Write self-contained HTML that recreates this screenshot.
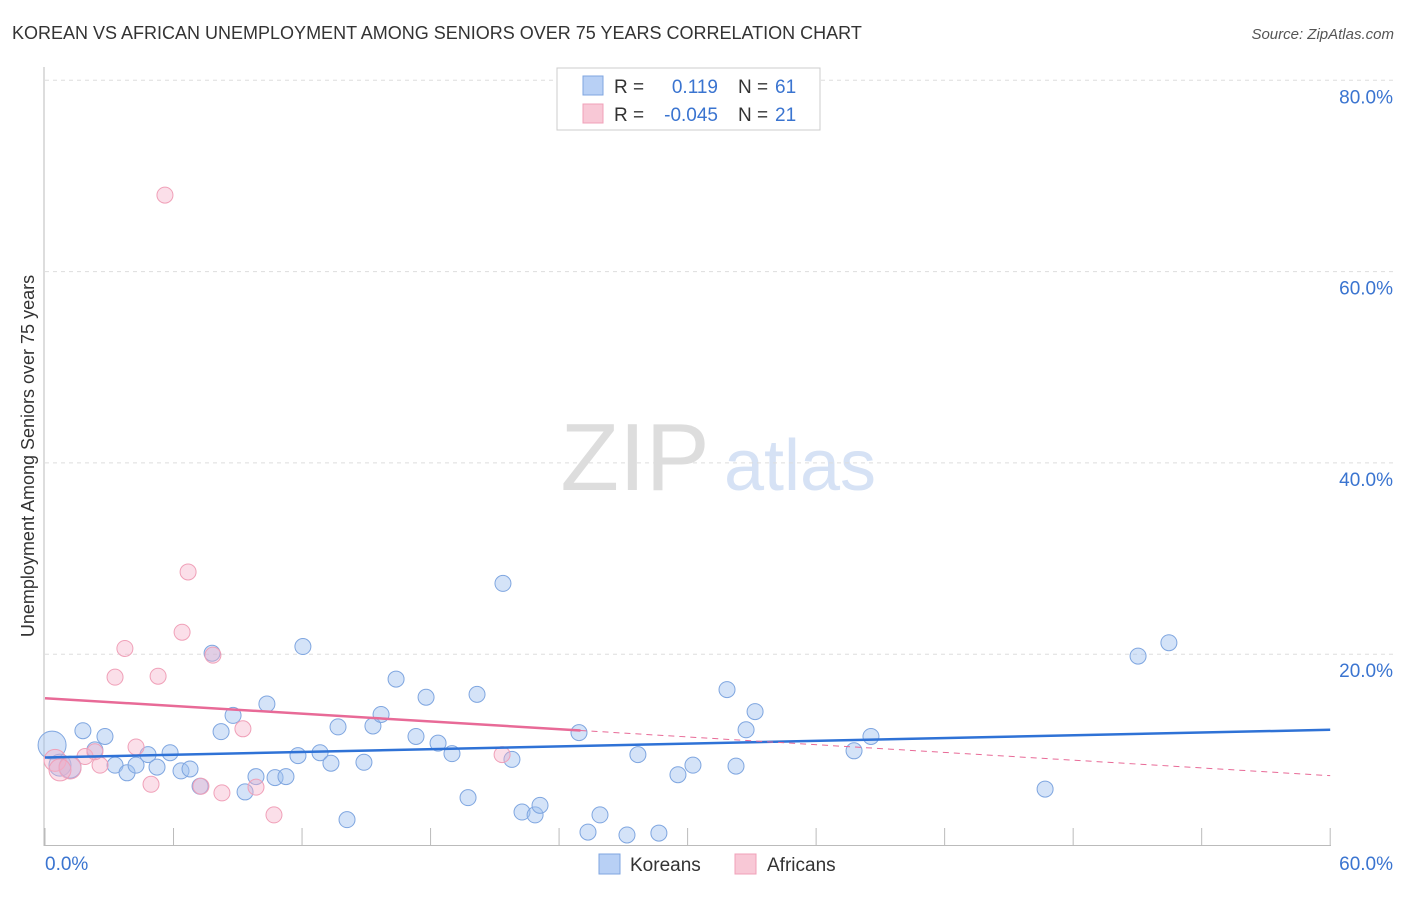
<!DOCTYPE html>
<html><head><meta charset="utf-8"><style>
body{margin:0;background:#fff;font-family:"Liberation Sans",sans-serif;}
svg text{font-family:"Liberation Sans",sans-serif;}
</style></head><body>
<svg id="c" width="1406" height="892">
<text x="12" y="39" font-size="18" fill="#333">KOREAN VS AFRICAN UNEMPLOYMENT AMONG SENIORS OVER 75 YEARS CORRELATION CHART</text>
<text x="1394" y="39" font-size="15" fill="#555" font-style="italic" text-anchor="end">Source: ZipAtlas.com</text>
<text x="635" y="490" font-size="96" fill="#ddd" font-family="Liberation Serif" text-anchor="middle">ZIP</text>
<text x="800" y="490" font-size="72" fill="#d6e2f5" text-anchor="middle">atlas</text>
<text transform="translate(34,456) rotate(-90)" font-size="18" fill="#333" text-anchor="middle">Unemployment Among Seniors over 75 years</text>
<g id="grid"></g><g id="marks"></g>
<g>
<rect x="557" y="68" width="263" height="62" fill="#fff" stroke="#ccc"/>
<rect x="583" y="76" width="20" height="19" fill="#b8d0f5" stroke="#7fa6e0"/>
<rect x="583" y="104" width="20" height="19" fill="#f8c8d6" stroke="#f0a0b8"/>
<text x="614" y="93" font-size="19" fill="#333">R =</text><text x="718" y="93" font-size="19" fill="#3a74d0" text-anchor="end">0.119</text>
<text x="738" y="93" font-size="19" fill="#333">N =</text><text x="775" y="93" font-size="19" fill="#3a74d0">61</text>
<text x="614" y="121" font-size="19" fill="#333">R =</text><text x="718" y="121" font-size="19" fill="#3a74d0" text-anchor="end">-0.045</text>
<text x="738" y="121" font-size="19" fill="#333">N =</text><text x="775" y="121" font-size="19" fill="#3a74d0">21</text>
</g>
<g>
<rect x="599" y="854" width="21" height="20" fill="#b8d0f5" stroke="#7fa6e0"/>
<text x="630" y="871" font-size="19" fill="#333">Koreans</text>
<rect x="735" y="854" width="21" height="20" fill="#f8c8d6" stroke="#f0a0b8"/>
<text x="767" y="871" font-size="19" fill="#333">Africans</text>
</g>
</svg>
<script>
const koreanX=[0.33,0.70,1.17,1.77,2.33,2.80,3.27,3.83,4.25,4.81,5.23,5.84,6.35,6.77,7.24,7.80,8.22,8.78,9.34,9.85,10.36,10.74,11.25,11.81,12.04,12.84,13.35,13.68,14.10,14.89,15.31,15.69,16.39,17.32,17.79,18.35,19.00,19.75,20.17,21.38,21.80,22.27,22.88,23.11,24.93,25.35,25.91,27.17,27.68,28.66,29.55,30.25,31.84,32.26,32.73,33.15,37.77,38.56,46.69,51.03,52.47];
const koreanY=[10.5,8.4,8.2,12.0,10.0,11.4,8.4,7.6,8.4,9.5,8.2,9.7,7.8,8.0,6.2,20.1,11.9,13.6,5.6,7.2,14.8,7.1,7.2,9.4,20.8,9.7,8.6,12.4,2.7,8.7,12.5,13.7,17.4,11.4,15.5,10.7,9.6,5.0,15.8,27.4,9.0,3.5,3.2,4.2,11.8,1.4,3.2,1.1,9.5,1.3,7.4,8.4,16.3,8.3,12.1,14.0,9.9,11.4,5.9,19.8,21.2];
const africanX=[5.60,6.68,6.40,3.73,5.28,3.27,7.84,9.24,4.25,0.47,1.17,1.87,2.57,4.95,7.28,8.26,9.85,10.69,21.34,2.33,0.70];
const africanY=[68.0,28.6,22.3,20.6,17.7,17.6,19.9,12.2,10.3,8.9,8.1,9.3,8.4,6.4,6.2,5.5,6.1,3.2,9.5,9.8,7.9];
const koreanTrend=[9.2,12.1];
const africanTrend=[15.4,7.3];
const africanSolidEnd=25;
const yTicks=[20,40,60,80];
const xTickVals=[0,6,12,18,24,30,36,42,48,54,60];
const NS="http://www.w3.org/2000/svg";
const X=v=>45+v*21.42, Y=v=>845.5-v*9.565;
function mk(t,a,p){const e=document.createElementNS(NS,t);for(const k in a)e.setAttribute(k,a[k]);p.appendChild(e);return e;}
const g=document.getElementById('grid'),m=document.getElementById('marks');
yTicks.forEach(v=>{
 const l=mk('line',{x1:45,x2:1395,y1:Y(v),y2:Y(v),stroke:'#ddd','stroke-dasharray':'4,4'},g);
 
 
 const t=mk('text',{x:1393,y:Y(v)+23,'font-size':19,fill:'#3a74d0','text-anchor':'end'},g);t.textContent=v.toFixed(1)+'%';
 
 
});
mk('line',{x1:44,x2:44,y1:67,y2:846,stroke:'#bbb'},g);
mk('line',{x1:44,x2:1331,y1:845.5,y2:845.5,stroke:'#bbb'},g);
xTickVals.forEach(v=>{const l=mk('line',{x1:X(v),x2:X(v),y1:828,y2:846,stroke:'#bbb'},g);
 
 });
let t=mk('text',{x:45,y:870,'font-size':19,fill:'#3a74d0'},g);t.textContent='0.0%';


t=mk('text',{x:1393,y:870,'font-size':19,fill:'#3a74d0','text-anchor':'end'},g);t.textContent='60.0%';


function pts(xs,ys,fill,stroke,name){xs.forEach((x,i)=>{
 const r=(i==0&&name=='korean')?14:(x<1.3?11:8);
 const c=mk('circle',{cx:X(x),cy:Y(ys[i]),r:r,fill:fill,stroke:stroke,'stroke-width':1},m);
 
 });}
pts(koreanX,koreanY,'rgba(160,192,240,0.45)','#7fa6e0','korean');
pts(africanX,africanY,'rgba(245,175,200,0.4)','#f0a0b8','african');
const lerp=(a,b,x)=>a+(b-a)*x/60;
let l=mk('line',{x1:X(0),y1:Y(koreanTrend[0]),x2:X(60),y2:Y(koreanTrend[1]),stroke:'#2f72d6','stroke-width':2.5},m);


l=mk('line',{x1:X(0),y1:Y(africanTrend[0]),x2:X(africanSolidEnd),y2:Y(lerp(africanTrend[0],africanTrend[1],africanSolidEnd)),stroke:'#e86a97','stroke-width':2.5},m);


l=mk('line',{x1:X(africanSolidEnd),y1:Y(lerp(africanTrend[0],africanTrend[1],africanSolidEnd)),x2:X(60),y2:Y(africanTrend[1]),stroke:'#e86a97','stroke-width':1,'stroke-dasharray':'6,5'},m);


</script>
</body></html>
